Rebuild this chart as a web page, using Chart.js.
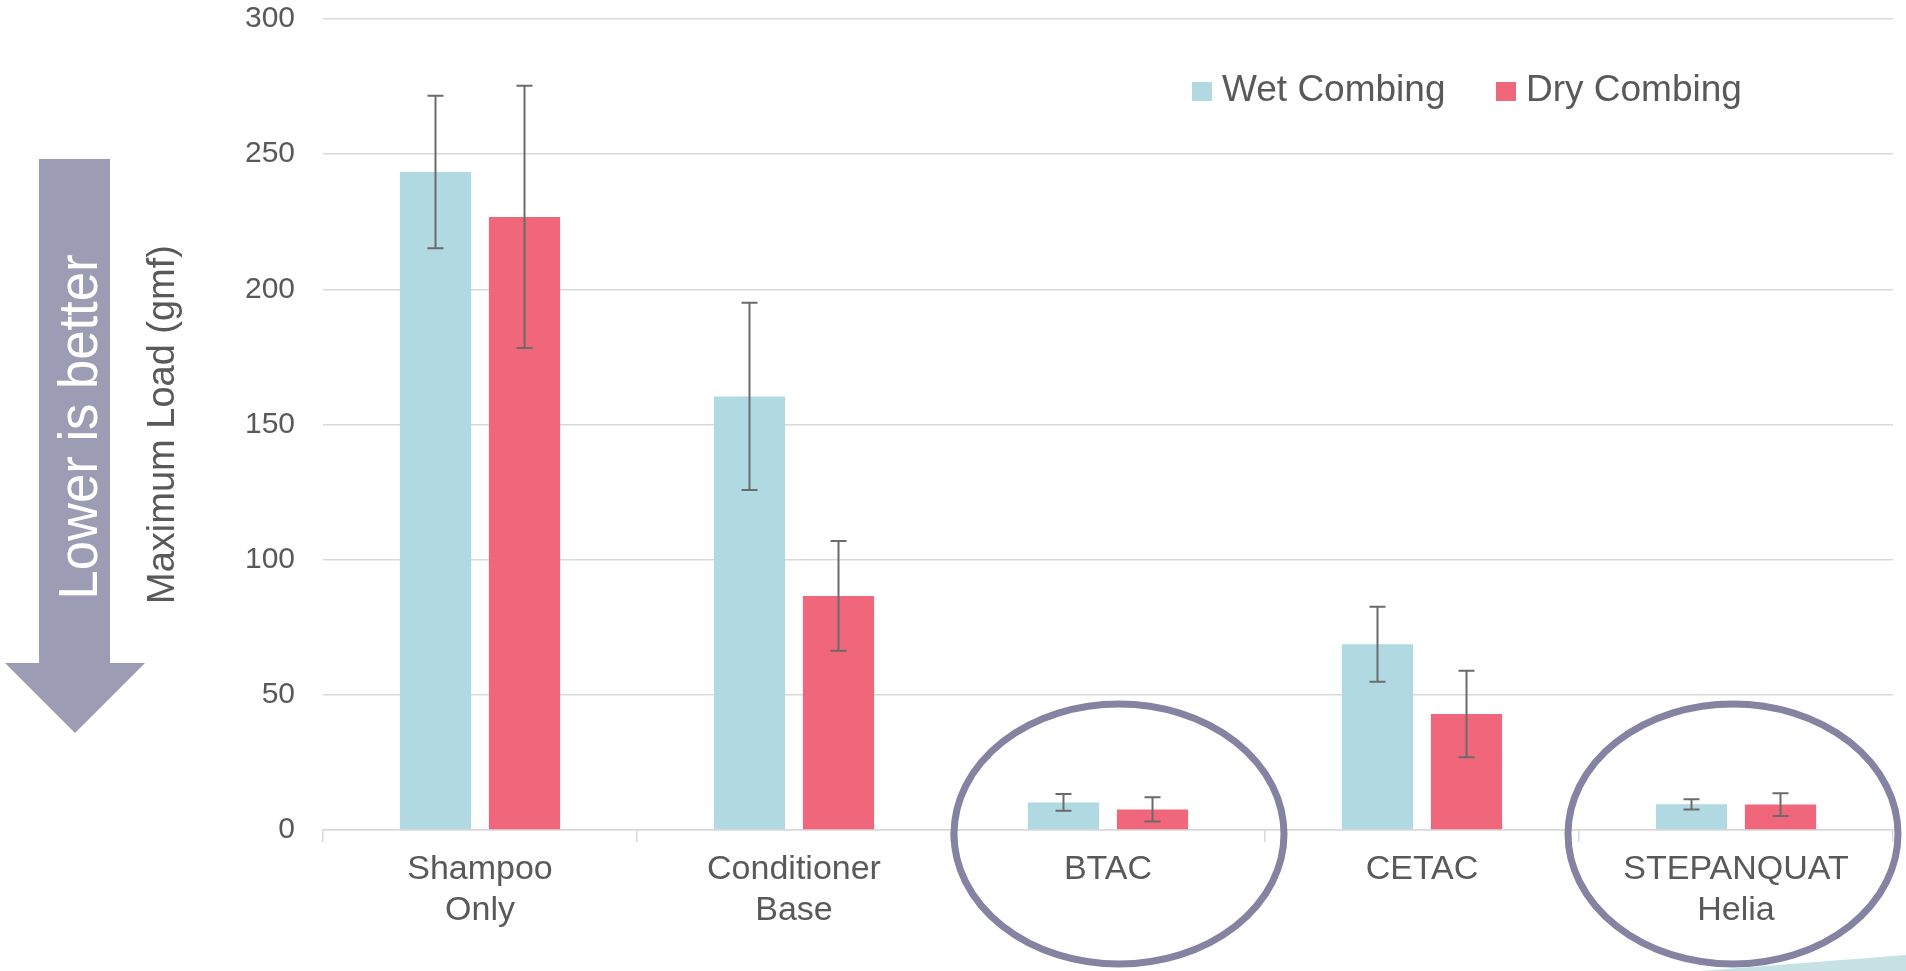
<!DOCTYPE html>
<html>
<head>
<meta charset="utf-8">
<script src="https://cdn.jsdelivr.net/npm/chart.js@4"></script>
<style>
  body { margin: 0; background: #fff; }
  #combChart { display: block; }
</style>
</head>
<body>
<canvas id="combChart" width="1906" height="971"></canvas>
<script>
const categories = [
  ["Shampoo", "Only"],
  ["Conditioner", "Base"],
  "BTAC",
  "CETAC",
  ["STEPANQUAT", "Helia"],
];
const wetLoad = [243.4, 160.4, 10.2, 68.7, 9.5];
const wetErr = [28.2, 34.6, 3.1, 13.9, 1.9];
const dryLoad = [226.8, 86.6, 7.6, 42.9, 9.4];
const dryErr = [48.5, 20.3, 4.5, 16.0, 4.2];
const yTicks = [0, 50, 100, 150, 200, 250, 300];
const circled = [2, 4];

const textColor = "#595959";
const fontFamily = "'Liberation Sans', Arial, sans-serif";

// error bars drawn from the bar elements and the y scale
const errorBars = {
  id: "errorBars",
  afterDatasetsDraw: (chart) => {
    const ctx = chart.ctx;
    const y = chart.scales.y;
    const errs = [wetErr, dryErr];
    ctx.save();
    ctx.strokeStyle = "#6b6b6b";
    ctx.lineWidth = 2;
    chart.data.datasets.forEach((ds, i) => {
      const meta = chart.getDatasetMeta(i);
      meta.data.forEach((bar, j) => {
        const v = ds.data[j];
        const top = y.getPixelForValue(v + errs[i][j]);
        const bottom = y.getPixelForValue(v - errs[i][j]);
        ctx.beginPath();
        ctx.moveTo(bar.x, top);
        ctx.lineTo(bar.x, bottom);
        ctx.moveTo(bar.x - 8, top);
        ctx.lineTo(bar.x + 8, top);
        ctx.moveTo(bar.x - 8, bottom);
        ctx.lineTo(bar.x + 8, bottom);
        ctx.stroke();
      });
    });
    ctx.restore();
  },
};

// legend, arrow, circles and the corner shape of the slide
const decorations = {
  id: "decorations",
  afterDraw: (chart) => {
    const ctx = chart.ctx;
    const x = chart.scales.x;
    const y = chart.scales.y;
    ctx.save();

    // legend
    ctx.font = `37px ${fontFamily}`;
    ctx.textBaseline = "middle";
    ctx.textAlign = "left";
    const legendX = [1192, 1496];
    chart.data.datasets.forEach((ds, i) => {
      ctx.fillStyle = ds.backgroundColor;
      ctx.fillRect(legendX[i], 82, 20, 19);
      ctx.fillStyle = textColor;
      ctx.fillText(ds.label, legendX[i] + 30, 91);
    });

    // arrow
    ctx.fillStyle = "#9c9cb4";
    ctx.beginPath();
    ctx.moveTo(39, 159);
    ctx.lineTo(110, 159);
    ctx.lineTo(110, 663);
    ctx.lineTo(145, 663);
    ctx.lineTo(75, 733);
    ctx.lineTo(5, 663);
    ctx.lineTo(39, 663);
    ctx.closePath();
    ctx.fill();
    ctx.save();
    ctx.translate(97, 427);
    ctx.rotate(-Math.PI / 2);
    ctx.fillStyle = "#ffffff";
    ctx.font = `56px ${fontFamily}`;
    ctx.textAlign = "center";
    ctx.textBaseline = "alphabetic";
    ctx.fillText("Lower is better", 0, 0, 345);
    ctx.restore();

    // circles round the highlighted categories
    ctx.strokeStyle = "#8484a2";
    ctx.lineWidth = 7;
    const offsets = [11, -3];
    circled.forEach((idx, k) => {
      ctx.beginPath();
      ctx.ellipse(
        x.getPixelForValue(idx) + offsets[k],
        y.getPixelForValue(0) + 4,
        165,
        130,
        0,
        0,
        Math.PI * 2
      );
      ctx.stroke();
    });

    // corner shape
    ctx.fillStyle = "#c6e2e5";
    ctx.beginPath();
    ctx.moveTo(1700, 971);
    ctx.lineTo(1906, 955);
    ctx.lineTo(1906, 971);
    ctx.closePath();
    ctx.fill();

    ctx.restore();
  },
};

const data = {
  labels: categories,
  datasets: [
    {
      label: "Wet Combing",
      data: wetLoad,
      backgroundColor: "#b0d9e2",
      categoryPercentage: 0.567,
      barPercentage: 0.8,
    },
    {
      label: "Dry Combing",
      data: dryLoad,
      backgroundColor: "#f0667b",
      categoryPercentage: 0.567,
      barPercentage: 0.8,
    },
  ],
};

const config = {
  type: "bar",
  data: data,
  options: {
    responsive: false,
    animation: false,
    layout: { padding: { left: 0, top: 19, right: 13, bottom: 0 } },
    plugins: {
      legend: { display: false },
      tooltip: { enabled: false },
    },
    scales: {
      x: {
        grid: {
          offset: true,
          drawOnChartArea: false,
          drawTicks: true,
          tickLength: 12,
          color: "#d9d9d9",
          lineWidth: 1.5,
        },
        border: { display: true, color: "#d9d9d9", width: 1.5 },
        ticks: {
          color: textColor,
          padding: 8,
          maxRotation: 0,
          autoSkip: false,
          font: { family: fontFamily, size: 34, lineHeight: 1.18 },
        },
        afterFit: (scale) => {
          scale.height = 141;
          scale.paddingLeft = 0;
          scale.paddingRight = 0;
        },
      },
      y: {
        min: 0,
        max: 300,
        afterBuildTicks: (scale) => {
          scale.ticks = yTicks.map((v) => ({ value: v }));
        },
        grid: { color: "#d9d9d9", lineWidth: 1.5, drawTicks: false },
        border: { display: false },
        ticks: {
          color: textColor,
          padding: 28,
          font: { family: fontFamily, size: 30 },
        },
        title: {
          display: true,
          text: "Maximum Load (gmf)",
          color: textColor,
          font: { family: fontFamily, size: 38 },
          padding: { top: 141, bottom: 0 },
        },
        afterFit: (scale) => {
          scale.width = 323;
          scale.paddingTop = 0;
          scale.paddingBottom = 0;
        },
      },
    },
  },
  plugins: [errorBars, decorations],
};

const combChart = new Chart(document.getElementById("combChart"), config);
</script>
</body>
</html>
